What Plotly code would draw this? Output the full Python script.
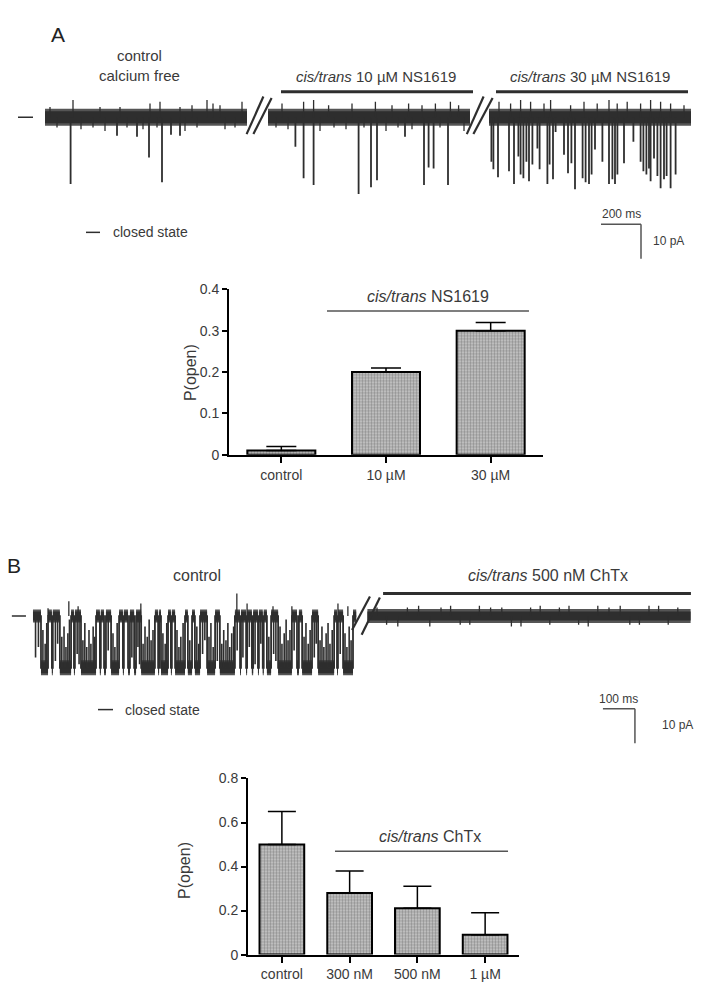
import plotly.graph_objects as go

# ---- bar chart data ----
a_cats = ["control", "10 µM", "30 µM"]
a_popen = [0.01, 0.20, 0.30]
a_sem = [0.01, 0.01, 0.02]

b_cats = ["control", "300 nM", "500 nM", "1 µM"]
b_popen = [0.50, 0.28, 0.21, 0.09]
b_sem = [0.15, 0.10, 0.10, 0.10]

# ---- trace A: openings (ms from segment start, pA) ----
seg_dur = 1010
a_offsets = [0, 1115, 2220]

a1_open_t = [128, 360, 460, 520, 585, 630, 675]
a1_open_amp = [-19.4, -5.4, -5.7, -11.7, -18.9, -5.1, -5.4]
a2_open_t = [137, 178, 228, 453, 515, 545, 685, 780, 803, 828, 900]
a2_open_amp = [-8.6, -17.7, -19.7, -22.3, -20.3, -18.3, -5.7, -19.7, -14.6, -14.9, -19.7]
a3_open_t = [12, 22, 45, 100, 125, 147, 158, 172, 187, 200, 217, 242, 253, 292, 303,
             320, 333, 375, 395, 412, 430, 468, 483, 500, 513, 530, 567, 600, 617, 630,
             642, 675, 722, 758, 772, 787, 800, 808, 825, 842, 858, 875, 888, 908, 933]
a3_open_amp = [-12.9, -15.1, -17.4, -15.7, -19.4, -11.4, -16.6, -17.7, -12.9, -18.6,
               -13.7, -9.1, -15.1, -19.4, -13.7, -18.0, -4.3, -10.9, -16.3, -13.4,
               -20.9, -17.7, -18.9, -19.4, -16.6, -9.4, -12.9, -19.4, -18.0, -19.4,
               -16.6, -13.4, -7.1, -12.9, -15.7, -16.6, -14.9, -18.6, -12.0, -17.1,
               -20.6, -18.0, -17.1, -20.6, -16.6]

# small noise flickers around the closed level
a1_flick_t = [25, 140, 275, 375, 525, 575, 675, 735, 810, 840, 875, 985,
              60, 180, 240, 300, 410, 490, 560, 700, 760, 900, 950]
a1_flick_amp = [3, 5, 3, 3, 4, 4.5, 3, 3.5, 5, 4, 3.5, 4.5,
                -3, -3.5, -3, -4, -3, -3.5, -3, -4, -3, -3.5, -3]
a2_flick_t = [70, 178, 228, 303, 420, 537, 620, 703, 770, 837, 912, 953,
              40, 100, 260, 330, 390, 480, 590, 650, 720, 860, 980]
a2_flick_amp = [4, 4.5, 5, 3.5, 4, 4.5, 3.5, 4, 3.5, 4, 4.5, 3.5,
                -3, -3.5, -4, -3, -3.5, -3, -4, -3, -3.5, -3, -4]
a3_flick_t = [50, 108, 158, 208, 275, 308, 408, 475, 541, 600, 641, 691, 758, 808, 858, 908, 975]
a3_flick_amp = [4.5, 4, 5, 4.5, 4, 5, 3.5, 4.5, 4, 5, 4, 4.5, 4, 5, 4.5, 4, 3.5]

# ---- trace B: control open intervals (ms), brief events, ChTx segment noise ----
b_offsets = [0, 1045]
b_open_level = -15
b_open_start = [25, 59, 84, 128, 150, 209, 222, 244, 281, 297, 316, 338, 391, 400, 431, 444,
                484, 506, 544, 584, 647, 666, 684, 703, 718, 731, 766, 825, 841, 891, 950, 969]
b_open_end = [47, 62, 119, 131, 197, 212, 228, 269, 284, 303, 322, 381, 394, 422, 434, 475,
              497, 522, 569, 631, 650, 669, 688, 706, 721, 744, 809, 831, 872, 941, 953, 1000]
# partial closures during openings (time ms, level reached pA)
b_close_flick_t = [31, 38, 43, 90, 97, 103, 109, 114, 156, 162, 168, 175, 181, 188, 193,
                   250, 256, 263, 344, 350, 357, 363, 369, 375, 406, 413, 418, 450, 456, 462,
                   469, 490, 512, 518, 550, 556, 563, 590, 596, 603, 609, 615, 621, 627, 737,
                   772, 778, 785, 791, 797, 803, 847, 853, 860, 866, 897, 903, 909, 916, 922,
                   928, 935, 975, 981, 988, 994]
b_close_flick_lvl = [-4, -8, -2, -6, -3, -9, -5, -1, -7, -2, -9, -4, -8, -3, -6,
                     -5, -9, -2, -8, -3, -6, -1, -7, -4, -5, -8, -2, -4, -9, -6,
                     -2, -7, -3, -8, -6, -2, -9, -8, -4, -7, -2, -9, -5, -3, -6,
                     -3, -8, -5, -1, -7, -4, -6, -2, -8, -4, -7, -3, -9, -5, -2,
                     -8, -4, -5, -9, -3, -7]
# brief openings during closed periods
b_open_flick_t = [8, 17, 70, 77, 138, 144, 235, 309, 328, 333, 530, 537, 576, 638, 656, 676,
                  694, 712, 752, 759, 816, 879, 885, 960]
b_open_flick_amp = [-12, -9, -13, -8, -11, -14, -10, -12, -9, -14, -11, -7, -13, -10, -12, -9,
                    -14, -8, -11, -13, -10, -12, -8, -11]
b1_flick_t = [47, 112, 141, 337, 637, 669, 750, 809, 953, 984]
b1_flick_amp = [2.3, 4.3, 2.9, 3.7, 6.6, 3.7, 2.9, 2.9, 3.7, 2.9]
b2_flick_t = [30, 95, 160, 230, 290, 350, 420, 480, 540, 600, 660, 720, 790, 850, 910, 970,
              60, 125, 195, 260, 320, 385, 450, 510, 570, 630, 690, 755, 820, 880, 940]
b2_flick_amp = [2.5, -3, 3, 2.5, -2.5, 3, 2.5, -3, 3, 2.5, -2.5, 3, 3, -2.5, 3, 2.5,
                -2.5, 2.5, -3, 3, -2.5, 2.5, -3, 2.5, -2.5, 3, -3, 2.5, -2.5, 3, -2.5]

W, H = 706, 1000
INK = "#2e2e2e"
FUZZ = "#555555"
TXT = "#3a3a3a"
FONT = "Liberation Sans, Arial, sans-serif"


def px(x):
    return x / W


def py(y):
    return 1 - y / H


def spikes(times, amps, offset, base=0):
    xs, ys = [], []
    if not isinstance(base, list):
        base = [base] * len(times)
    for t, a, b in zip(times, amps, base):
        xs += [t + offset, t + offset, None]
        ys += [b, a, None]
    return xs, ys


def line_trace(xs, ys, xa, ya, width, color=INK):
    return go.Scatter(x=xs, y=ys, mode="lines", xaxis=xa, yaxis=ya, hoverinfo="skip",
                      line=dict(color=color, width=width))


fig = go.Figure()

# ---- panel A trace ----
a_open = [(a1_open_t, a1_open_amp), (a2_open_t, a2_open_amp), (a3_open_t, a3_open_amp)]
a_flick = [(a1_flick_t, a1_flick_amp), (a2_flick_t, a2_flick_amp), (a3_flick_t, a3_flick_amp)]
for off, (ot, oa), (ft, fa) in zip(a_offsets, a_open, a_flick):
    fig.add_trace(line_trace([off, off + seg_dur], [0, 0], "x3", "y3", 17, FUZZ))
    fig.add_trace(line_trace([off, off + seg_dur], [0, 0], "x3", "y3", 12))
    xs, ys = spikes(ft, fa, off)
    fig.add_trace(line_trace(xs, ys, "x3", "y3", 1.3))
    xs, ys = spikes(ot, oa, off)
    fig.add_trace(line_trace(xs, ys, "x3", "y3", 1.8))

# ---- panel B trace ----
step_x, step_y = [0], [0]
closed_x, closed_y, open_x, open_y = [], [], [], []
prev = 0
for o, c in zip(b_open_start, b_open_end):
    step_x += [o, o, c, c]
    step_y += [0, b_open_level, b_open_level, 0]
    closed_x += [prev, o, None]
    closed_y += [0, 0, None]
    open_x += [o, c, None]
    open_y += [b_open_level, b_open_level, None]
    prev = c
step_x.append(seg_dur)
step_y.append(0)
closed_x += [prev, seg_dur]
closed_y += [0, 0]

fig.add_trace(line_trace(closed_x, closed_y, "x4", "y4", 13, FUZZ))
fig.add_trace(line_trace(open_x, open_y, "x4", "y4", 15, FUZZ))
fig.add_trace(line_trace(closed_x, closed_y, "x4", "y4", 9))
fig.add_trace(line_trace(open_x, open_y, "x4", "y4", 11))
fig.add_trace(line_trace(step_x, step_y, "x4", "y4", 1.8))
xs, ys = spikes(b_close_flick_t, b_close_flick_lvl, 0, b_open_level)
fig.add_trace(line_trace(xs, ys, "x4", "y4", 1.6))
xs, ys = spikes(b_open_flick_t, b_open_flick_amp, 0)
fig.add_trace(line_trace(xs, ys, "x4", "y4", 1.6))
xs, ys = spikes(b1_flick_t, b1_flick_amp, b_offsets[0])
fig.add_trace(line_trace(xs, ys, "x4", "y4", 1.3))

fig.add_trace(line_trace([b_offsets[1], b_offsets[1] + seg_dur], [0, 0], "x4", "y4", 14, FUZZ))
fig.add_trace(line_trace([b_offsets[1], b_offsets[1] + seg_dur], [0, 0], "x4", "y4", 9))
xs, ys = spikes(b2_flick_t, b2_flick_amp, b_offsets[1])
fig.add_trace(line_trace(xs, ys, "x4", "y4", 1.3))

# ---- bar charts ----
bar_marker = dict(color="#a9a9a9", line=dict(color="black", width=2),
                  pattern=dict(shape=".", fgcolor="#555555", bgcolor="#cbcbcb",
                               size=3, solidity=0.5))
fig.add_trace(go.Bar(x=a_cats, y=a_popen, xaxis="x", yaxis="y", width=0.65, marker=bar_marker,
                     error_y=dict(type="data", array=a_sem, arrayminus=[0] * len(a_sem),
                                  symmetric=False, color="black", thickness=1.5, width=15)))
fig.add_trace(go.Bar(x=b_cats, y=b_popen, xaxis="x2", yaxis="y2", width=0.66, marker=bar_marker,
                     error_y=dict(type="data", array=b_sem, arrayminus=[0] * len(b_sem),
                                  symmetric=False, color="black", thickness=1.5, width=14)))

shapes = []
ann = []


def seg(xref, yref, x0, y0, x1, y1, width=2, color=INK):
    shapes.append(dict(type="line", xref=xref, yref=yref, x0=x0, y0=y0, x1=x1, y1=y1,
                       line=dict(color=color, width=width)))


def text(xref, yref, x, y, s, size=15, xanchor="center", angle=0, color=TXT):
    ann.append(dict(xref=xref, yref=yref, x=x, y=y, text=s, showarrow=False,
                    xanchor=xanchor, yanchor="middle", textangle=angle,
                    font=dict(family=FONT, size=size, color=color)))


# panel A decorations
for g, (l1, l2) in zip([1062, 2172], [((-54, 30), (-20, 71)), ((-63, 21), (-30, 66))]):
    seg("x3", "y3", g + l1[0], -4.9, g + l1[1], 6, 2.2)
    seg("x3", "y3", g + l2[0], -4.9, g + l2[1], 5.6, 2.2)
seg("x3", "y3", a_offsets[1] + 65, 7.4, a_offsets[1] + 1025, 7.4, 3)
seg("x3", "y3", a_offsets[2] + 35, 7.4, a_offsets[2] + 995, 7.4, 3)
seg("x3", "y3", -135, 0, -60, 0, 1.5)
seg("x3", "y3", 2780, -31.1, 2980, -31.1, 1.5, "#555")
seg("x3", "y3", 2980, -31.1, 2980, -41.1, 1.5, "#555")
text("x3", "y3", 470, 15.1, "control<br>calcium free", 15)
text("x3", "y3", 1655, 11.7, "<i>cis/trans</i> 10 µM NS1619", 15)
text("x3", "y3", 2725, 11.7, "<i>cis/trans</i> 30 µM NS1619", 15)
text("x3", "y3", 2880, -28.0, "200 ms", 12)
text("x3", "y3", 3030, -36.0, "10 pA", 12, "left")
text("paper", "paper", px(58), py(27), "A", 21, color="#222")
seg("paper", "paper", px(86), py(228), px(100), py(228), 1.5)
text("paper", "paper", px(111), py(228), "closed state", 14, "left")

# panel B decorations
seg("x4", "y4", 1027 - 30, -4, 1027 + 26, 5.7, 2.2)
seg("x4", "y4", 1027, -5.4, 1027 + 57, 5.4, 2.2)
seg("x4", "y4", b_offsets[1] + 49, 6.6, b_offsets[1] + 1011, 6.6, 3)
seg("x4", "y4", -66, 0, -22, 0, 1.5)
seg("x4", "y4", 1781, -26.9, 1881, -26.9, 1.5, "#555")
seg("x4", "y4", 1881, -26.9, 1881, -36.9, 1.5, "#555")
text("x4", "y4", 512, 11.7, "control", 16)
text("x4", "y4", 1609, 11.7, "<i>cis/trans</i> 500 nM ChTx", 16)
text("x4", "y4", 1831, -24.0, "100 ms", 12)
text("x4", "y4", 1960, -31.7, "10 pA", 12, "left")
text("paper", "paper", px(14), py(567), "B", 21, color="#222")
seg("paper", "paper", px(98), py(713), px(113), py(713), 1.5)
text("paper", "paper", px(123), py(713), "closed state", 14, "left")

# bar chart labels
seg("x", "y", 0.436, 0.3476, 2.366, 0.3476, 1.5, "#555")
text("x", "y", 1.40, 0.383, "<i>cis/trans</i> NS1619", 16)
text("paper", "paper", px(190), py(370), "P(open)", 16, angle=-90)
seg("x2", "y2", 0.784, 0.469, 3.338, 0.469, 1.5, "#555")
text("x2", "y2", 2.19, 0.536, "<i>cis/trans</i> ChTx", 16)
text("paper", "paper", px(185), py(877), "P(open)", 16, angle=-90)

tick_font = dict(family=FONT, size=14, color=TXT)
common_x = dict(showline=True, linecolor="black", linewidth=2, ticks="outside", ticklen=6,
                tickwidth=2, tickcolor="black", tickfont=tick_font, showgrid=False,
                zeroline=False, fixedrange=True)
common_y = dict(showline=True, linecolor="black", linewidth=2, ticks="outside", ticklen=5,
                tickwidth=2, tickcolor="black", tickfont=tick_font, showgrid=False,
                zeroline=False, fixedrange=True)

fig.update_layout(
    width=W, height=H, margin=dict(l=0, r=0, t=0, b=0),
    paper_bgcolor="white", plot_bgcolor="white", showlegend=False,
    font=dict(family=FONT, color=TXT),
    xaxis=dict(domain=[px(229), px(543)], range=[-0.5, 2.5], anchor="y", **common_x),
    yaxis=dict(domain=[py(454), py(286)], range=[0, 0.4], dtick=0.1, anchor="x", **common_y),
    xaxis2=dict(domain=[px(248), px(519)], range=[-0.5, 3.5], anchor="y2", **common_x),
    yaxis2=dict(domain=[py(962), py(783)], range=[0, 0.8], dtick=0.2, anchor="x2", **common_y),
    xaxis3=dict(domain=[0, 1], range=[-225, 3305], anchor="y3", visible=False),
    yaxis3=dict(domain=[py(260), 1], range=[-42.57, 31.71], anchor="x3", visible=False),
    xaxis4=dict(domain=[0, 1], range=[-103.1, 2103.1], anchor="y4", visible=False),
    yaxis4=dict(domain=[py(760), py(540)], range=[-40.57, 22.29], anchor="x4", visible=False),
    shapes=shapes, annotations=ann,
)

# the page's default body margin would push the 706x1000 figure off the window
fig.write_html("out.html", config={"displayModeBar": False},
               post_script="document.body.style.margin = '0';")
